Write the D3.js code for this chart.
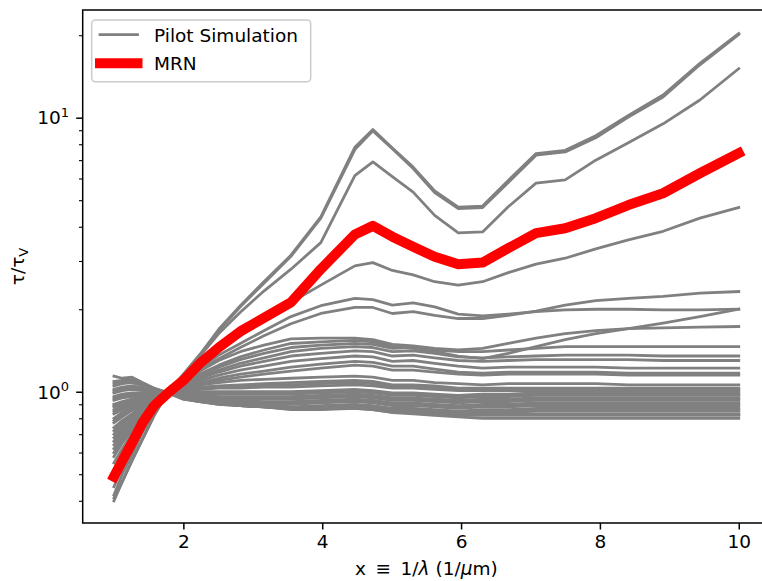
<!DOCTYPE html>
<html>
<head>
<meta charset="utf-8">
<script src="https://cdn.jsdelivr.net/npm/d3@7"></script>
<style>
  html, body { margin: 0; padding: 0; background: #fff; }
  svg { display: block; }
  text { font-family: "DejaVu Sans", sans-serif; fill: #000; }
</style>
</head>
<body>
<svg id="chart" width="762" height="581"></svg>
<script>
// Wavenumber grid x = 1/lambda (1/um)
const xGrid = [1.00,1.12,1.26,1.41,1.58,1.78,2.00,2.24,2.51,2.82,3.16,3.55,3.98,4.47,4.73,5.01,5.31,5.62,5.96,6.31,6.68,7.08,7.50,7.94,8.41,8.91,9.44,10.0];

// Extinction curves tau/tau_V of the pilot simulation runs
const pilot01 = [0.40,0.47,0.56,0.67,0.82,1.00,1.16,1.37,1.69,2.06,2.52,3.15,4.35,7.80,9.05,7.75,6.60,5.40,4.72,4.76,5.90,7.40,7.60,8.60,10.2,12.1,15.8,20.3];
const pilot02 = [0.41,0.47,0.56,0.67,0.82,1.00,1.15,1.36,1.67,2.04,2.49,3.12,4.30,7.65,8.95,7.70,6.52,5.33,4.66,4.70,5.80,7.30,7.50,8.45,10.05,11.9,15.6,20.1];
const pilot03 = [0.42,0.50,0.59,0.71,0.84,1.00,1.15,1.35,1.63,1.95,2.33,2.80,3.50,6.15,6.90,6.10,5.35,4.40,3.80,3.83,4.73,5.77,5.93,7.00,8.10,9.50,11.6,15.1];
const pilot04 = [0.45,0.53,0.62,0.73,0.85,1.00,1.12,1.27,1.42,1.60,1.82,2.12,2.45,2.88,2.96,2.77,2.67,2.52,2.45,2.52,2.72,2.92,3.07,3.32,3.58,3.85,4.30,4.70];
const pilot05 = [0.52,0.59,0.68,0.77,0.88,1.00,1.10,1.23,1.36,1.50,1.67,1.88,2.06,2.19,2.17,2.07,2.11,2.04,1.92,1.89,1.92,1.96,1.99,2.00,2.00,1.99,1.99,2.00];
const pilot06 = [0.55,0.62,0.70,0.79,0.89,1.00,1.09,1.21,1.32,1.45,1.60,1.77,1.93,2.03,2.03,1.93,1.96,1.90,1.85,1.85,1.90,1.97,2.07,2.15,2.19,2.23,2.29,2.32];
const pilot07 = [0.58,0.65,0.72,0.80,0.89,0.99,1.08,1.19,1.30,1.40,1.48,1.56,1.57,1.57,1.55,1.49,1.47,1.44,1.42,1.44,1.50,1.57,1.63,1.67,1.70,1.71,1.72,1.73];
const pilot08 = [0.60,0.665,0.735,0.815,0.90,0.99,1.07,1.16,1.25,1.34,1.42,1.50,1.52,1.54,1.52,1.46,1.44,1.40,1.35,1.32,1.38,1.46,1.55,1.63,1.70,1.78,1.88,2.00];
const pilot09 = [0.62,0.68,0.75,0.83,0.91,0.99,1.07,1.15,1.23,1.31,1.38,1.45,1.48,1.50,1.49,1.44,1.45,1.42,1.40,1.40,1.42,1.44,1.46,1.46,1.46,1.46,1.46,1.46];
const pilot10 = [0.64,0.70,0.765,0.84,0.915,0.99,1.06,1.13,1.20,1.27,1.33,1.40,1.44,1.46,1.45,1.40,1.41,1.38,1.34,1.33,1.34,1.35,1.36,1.36,1.36,1.35,1.35,1.35];
const pilot11 = [0.66,0.72,0.78,0.85,0.92,0.99,1.06,1.12,1.18,1.24,1.29,1.35,1.38,1.41,1.40,1.35,1.36,1.33,1.30,1.29,1.30,1.31,1.31,1.31,1.31,1.30,1.30,1.30];
const pilot12 = [0.68,0.73,0.79,0.86,0.925,0.99,1.05,1.10,1.15,1.20,1.24,1.29,1.32,1.35,1.34,1.29,1.30,1.27,1.24,1.22,1.23,1.23,1.23,1.23,1.22,1.22,1.22,1.22];
const pilot13 = [0.70,0.75,0.81,0.87,0.93,0.99,1.04,1.08,1.12,1.16,1.19,1.23,1.26,1.29,1.28,1.24,1.24,1.21,1.18,1.17,1.18,1.18,1.18,1.18,1.17,1.17,1.17,1.17];
const pilot14 = [0.72,0.77,0.82,0.88,0.94,0.99,1.03,1.07,1.10,1.13,1.16,1.19,1.22,1.25,1.24,1.20,1.20,1.18,1.16,1.15,1.16,1.16,1.16,1.16,1.15,1.15,1.15,1.15];
const pilot15 = [0.74,0.785,0.83,0.89,0.94,0.99,1.03,1.06,1.08,1.10,1.11,1.12,1.13,1.14,1.13,1.10,1.10,1.08,1.07,1.06,1.07,1.07,1.07,1.07,1.06,1.06,1.06,1.06];
const pilot16 = [0.77,0.81,0.855,0.90,0.95,0.99,1.02,1.04,1.05,1.06,1.07,1.08,1.09,1.10,1.09,1.06,1.06,1.05,1.03,1.03,1.03,1.03,1.03,1.03,1.03,1.03,1.03,1.03];
const pilot17 = [0.785,0.825,0.865,0.91,0.95,0.99,1.015,1.03,1.04,1.045,1.055,1.06,1.07,1.08,1.07,1.045,1.045,1.035,1.02,1.02,1.02,1.02,1.02,1.02,1.02,1.02,1.02,1.02];
const pilot18 = [0.80,0.84,0.875,0.915,0.955,0.99,1.01,1.02,1.03,1.03,1.04,1.04,1.05,1.06,1.05,1.03,1.03,1.02,1.01,1.01,1.01,1.01,1.01,1.01,1.01,1.01,1.01,1.01];
const pilot19 = [0.83,0.86,0.89,0.93,0.96,0.99,1.00,1.00,1.00,1.00,1.00,1.00,1.01,1.02,1.01,0.99,0.99,0.98,0.97,0.98,0.98,0.99,0.99,0.99,0.99,0.99,0.99,0.99];
const pilot20 = [0.845,0.87,0.90,0.935,0.965,0.99,0.995,0.99,0.99,0.99,0.99,0.99,1.00,1.01,1.00,0.98,0.98,0.97,0.96,0.97,0.97,0.98,0.98,0.98,0.98,0.98,0.98,0.98];
const pilot21 = [0.86,0.885,0.91,0.94,0.97,0.99,0.99,0.98,0.98,0.98,0.98,0.98,0.99,1.00,0.99,0.97,0.97,0.96,0.95,0.96,0.96,0.97,0.97,0.97,0.97,0.97,0.97,0.97];
const pilot22 = [0.88,0.90,0.925,0.95,0.975,0.99,0.98,0.97,0.96,0.96,0.96,0.96,0.97,0.98,0.97,0.95,0.95,0.94,0.93,0.94,0.94,0.95,0.95,0.95,0.95,0.95,0.95,0.95];
const pilot23 = [0.89,0.91,0.93,0.955,0.975,0.99,0.975,0.965,0.955,0.95,0.95,0.95,0.96,0.97,0.96,0.94,0.94,0.93,0.92,0.93,0.93,0.94,0.94,0.94,0.94,0.94,0.94,0.94];
const pilot24 = [0.90,0.92,0.94,0.96,0.98,0.99,0.97,0.96,0.95,0.94,0.94,0.94,0.95,0.96,0.95,0.93,0.93,0.92,0.91,0.92,0.92,0.93,0.93,0.93,0.93,0.93,0.93,0.93];
const pilot25 = [0.93,0.95,0.96,0.97,0.985,0.99,0.97,0.95,0.94,0.93,0.92,0.92,0.93,0.94,0.93,0.91,0.91,0.90,0.89,0.90,0.90,0.91,0.91,0.91,0.91,0.91,0.91,0.91];
const pilot26 = [0.945,0.965,0.975,0.98,0.985,0.99,0.965,0.945,0.935,0.925,0.915,0.91,0.92,0.93,0.92,0.90,0.90,0.89,0.88,0.89,0.89,0.90,0.90,0.90,0.90,0.90,0.90,0.90];
const pilot27 = [0.96,0.98,0.99,0.99,0.99,0.99,0.96,0.94,0.93,0.92,0.91,0.90,0.91,0.92,0.91,0.89,0.89,0.88,0.87,0.88,0.88,0.89,0.89,0.89,0.89,0.89,0.89,0.89];
const pilot28 = [0.99,1.01,1.02,1.01,1.00,0.99,0.96,0.93,0.92,0.91,0.90,0.88,0.89,0.90,0.89,0.87,0.87,0.86,0.85,0.86,0.86,0.87,0.87,0.87,0.87,0.87,0.87,0.87];
const pilot29 = [1.005,1.025,1.035,1.02,1.005,0.99,0.955,0.93,0.92,0.905,0.895,0.875,0.885,0.895,0.885,0.865,0.865,0.855,0.845,0.85,0.85,0.86,0.86,0.86,0.86,0.86,0.86,0.86];
const pilot30 = [1.02,1.04,1.05,1.03,1.01,0.99,0.95,0.93,0.92,0.90,0.89,0.87,0.88,0.89,0.88,0.86,0.86,0.85,0.84,0.84,0.84,0.85,0.85,0.85,0.85,0.85,0.85,0.85];
const pilot31 = [1.05,1.07,1.08,1.05,1.02,0.99,0.95,0.92,0.91,0.89,0.88,0.87,0.87,0.88,0.87,0.85,0.85,0.84,0.83,0.83,0.83,0.83,0.83,0.83,0.83,0.83,0.83,0.83];
const pilot32 = [1.07,1.085,1.095,1.06,1.025,0.99,0.945,0.92,0.905,0.89,0.88,0.865,0.865,0.875,0.865,0.845,0.845,0.835,0.825,0.825,0.825,0.825,0.825,0.825,0.825,0.825,0.825,0.825];
const pilot33 = [1.09,1.10,1.11,1.07,1.03,0.99,0.94,0.92,0.90,0.89,0.88,0.86,0.86,0.87,0.86,0.84,0.84,0.83,0.82,0.82,0.82,0.82,0.82,0.82,0.82,0.82,0.82,0.82];
const pilot34 = [1.14,1.12,1.13,1.08,1.03,0.99,0.94,0.92,0.90,0.89,0.88,0.87,0.87,0.87,0.86,0.84,0.83,0.82,0.81,0.80,0.80,0.80,0.80,0.80,0.80,0.80,0.80,0.80];

const pilotRuns = [pilot01,pilot02,pilot03,pilot04,pilot05,pilot06,pilot07,pilot08,pilot09,pilot10,
                   pilot11,pilot12,pilot13,pilot14,pilot15,pilot16,pilot17,pilot18,pilot19,pilot20,
                   pilot21,pilot22,pilot23,pilot24,pilot25,pilot26,pilot27,pilot28,pilot29,pilot30,
                   pilot31,pilot32,pilot33,pilot34];

// MRN grain model
const mrnCurve = [0.49,0.56,0.65,0.77,0.89,0.99,1.10,1.27,1.45,1.66,1.86,2.12,2.80,3.75,4.03,3.68,3.38,3.11,2.92,2.96,3.34,3.79,3.95,4.30,4.80,5.30,6.27,7.42];

const xTicks = [2, 4, 6, 8, 10];
const yMajorTicks = [1, 10];
const yMajorExp = ["0", "1"];
const yMinorTicks = [0.4,0.5,0.6,0.7,0.8,0.9,2,3,4,5,6,7,8,9,20];
const legendLabels = ["Pilot Simulation", "MRN"];

const svg = d3.select("#chart");
const plotLeft = 82.7, plotRight = 770, plotTop = 10, plotBottom = 523;

const x = d3.scaleLinear().domain([0.55, 10.45]).range([plotLeft, plotRight]);
const y = d3.scaleLog().domain([Math.pow(10, -0.479), Math.pow(10, 1.393)]).range([plotBottom, plotTop]);

const line = d3.line().x(d => x(d[0])).y(d => y(d[1]));
const toPts = arr => xGrid.map((xv, i) => [xv, arr[i]]);

const plot = svg.append("g");

plot.selectAll("path.pilot").data(pilotRuns).join("path")
  .attr("class", "pilot")
  .attr("d", d => line(toPts(d)))
  .attr("fill", "none")
  .attr("stroke", "#808080")
  .attr("stroke-width", 2.8)
  .attr("stroke-linejoin", "round")
  .attr("stroke-linecap", "square");

plot.append("path")
  .attr("d", line(toPts(mrnCurve)))
  .attr("fill", "none")
  .attr("stroke", "#ff0000")
  .attr("stroke-width", 10)
  .attr("stroke-linejoin", "round")
  .attr("stroke-linecap", "square");

// Axes
const fontSize = 18.5;
const xAxis = svg.append("g").attr("transform", `translate(0,${plotBottom})`)
  .call(d3.axisBottom(x).tickValues(xTicks).tickSize(6.5).tickPadding(5).tickFormat(d3.format("d")));
xAxis.select(".domain").remove();
xAxis.selectAll(".tick line").attr("stroke", "#000").attr("stroke-width", 1.5);
xAxis.selectAll(".tick text").attr("font-size", fontSize).attr("font-family", "DejaVu Sans");

const yMinor = svg.append("g").attr("transform", `translate(${plotLeft},0)`)
  .call(d3.axisLeft(y).tickValues(yMinorTicks).tickSize(3.7).tickFormat(""));
yMinor.select(".domain").remove();
yMinor.selectAll(".tick line").attr("stroke", "#000").attr("stroke-width", 1.1);

const yMajor = svg.append("g").attr("transform", `translate(${plotLeft},0)`)
  .call(d3.axisLeft(y).tickValues(yMajorTicks).tickSize(6.5).tickFormat(""));
yMajor.select(".domain").remove();
yMajor.selectAll(".tick line").attr("stroke", "#000").attr("stroke-width", 1.5);

yMajorTicks.forEach((v, i) => {
  const t = svg.append("text")
    .attr("x", 69)
    .attr("y", y(v) + 6.8)
    .attr("text-anchor", "end")
    .attr("font-size", fontSize);
  t.append("tspan").text("10");
  t.append("tspan").attr("font-size", 13).attr("dy", -7.5).text(yMajorExp[i]);
});

// Frame
svg.append("path")
  .attr("d", `M${plotLeft},${plotTop}H${plotRight}M${plotLeft},${plotTop}V${plotBottom}H${plotRight}`)
  .attr("fill", "none").attr("stroke", "#000").attr("stroke-width", 1.5)
  .attr("stroke-linecap", "square");

// Axis titles
const xl = svg.append("text")
  .attr("x", (plotLeft + plotRight) / 2)
  .attr("y", 575)
  .attr("text-anchor", "middle")
  .attr("font-size", fontSize);
xl.append("tspan").text("x \u2009\u2261\u2009 1/");
xl.append("tspan").attr("font-style", "italic").text("\u03bb");
xl.append("tspan").text(" (1/");
xl.append("tspan").attr("font-style", "italic").text("\u03bc");
xl.append("tspan").text("m)");

const yl = svg.append("text")
  .attr("transform", `translate(24,${(plotTop + plotBottom) / 2}) rotate(-90)`)
  .attr("text-anchor", "middle")
  .attr("font-size", fontSize);
yl.append("tspan").text("\u03c4/\u03c4");
yl.append("tspan").attr("font-size", 13).attr("dy", 3.5).text("V");

// Legend
const lg = svg.append("g");
lg.append("rect")
  .attr("x", 91.7).attr("y", 20).attr("width", 219).attr("height", 61.7)
  .attr("rx", 3.7).attr("ry", 3.7)
  .attr("fill", "#fff").attr("fill-opacity", 0.8)
  .attr("stroke", "#cccccc").attr("stroke-width", 1.5);
const legendStyles = [{color: "#808080", w: 2.8, cy: 34.7}, {color: "#ff0000", w: 10, cy: 63.3}];
legendLabels.forEach((lab, i) => {
  const s = legendStyles[i];
  lg.append("line")
    .attr("x1", 100).attr("x2", 137.5).attr("y1", s.cy).attr("y2", s.cy)
    .attr("stroke", s.color).attr("stroke-width", s.w).attr("stroke-linecap", "square");
  lg.append("text")
    .attr("x", 154).attr("y", s.cy + 6.8)
    .attr("font-size", fontSize)
    .text(lab);
});
</script>
</body>
</html>
